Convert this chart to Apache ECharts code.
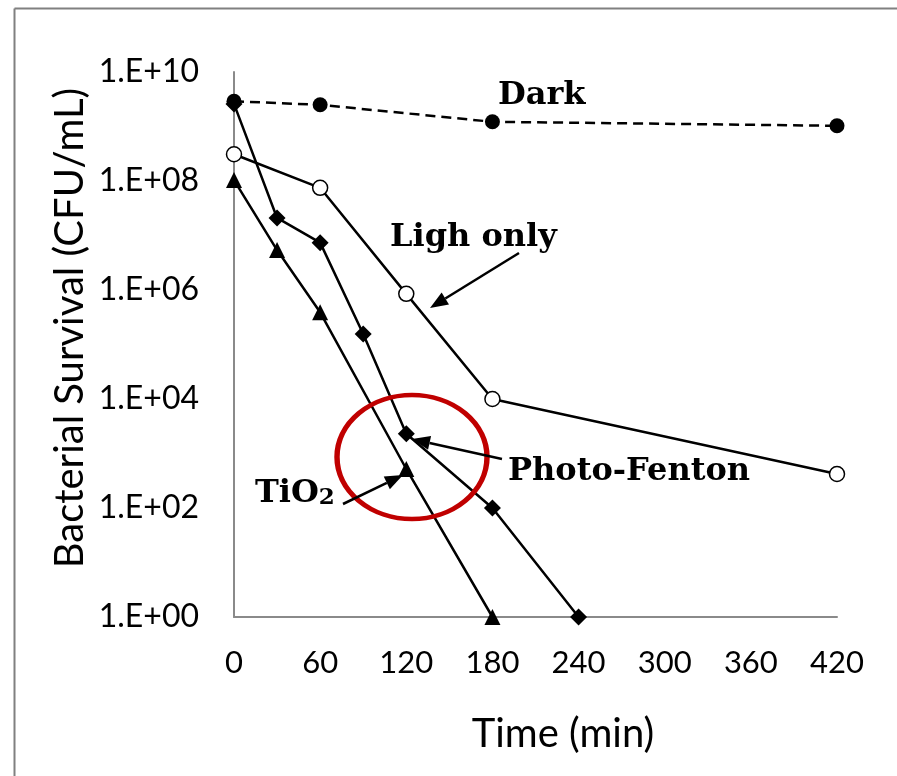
<!DOCTYPE html>
<html><head><meta charset="utf-8">
<script src="https://cdn.jsdelivr.net/npm/echarts@6/dist/echarts.min.js"></script>
<style>html,body{margin:0;padding:0;background:#fff;overflow:hidden;}#c{width:897px;height:776px;}</style>
</head><body><div id="c"></div>
<script>
// ---- data ----
const darkTime = [0, 60, 180, 420];
const darkVals = [2.9e9, 2.5e9, 1.22e9, 1.03e9];
const lightTime = [0, 60, 120, 180, 420];
const lightVals = [3.1e8, 7.5e7, 8.5e5, 1.0e4, 4.2e2];
const pfTime = [0, 30, 60, 90, 120, 180, 240];
const pfVals = [2.6e9, 2.1e7, 7.4e6, 1.56e5, 2.3e3, 1.0e2, 1];
const tiTime = [0, 30, 60, 120, 180];
const tiVals = [1.04e8, 5.4e6, 3.9e5, 5.2e2, 1];
const xTicks = [0, 60, 120, 180, 240, 300, 360, 420];
const seriesNames = ['Dark', 'Ligh only', 'Photo-Fenton', 'TiO2'];

const zip = (t, v) => t.map((x, i) => [x, v[i]]);
const chart = echarts.init(document.getElementById('c'), null, {renderer: 'canvas'});

function arrow(x1, y1, x2, y2) {
  const ang = Math.atan2(y2 - y1, x2 - x1);
  const L = 18, W = 7;
  const bx = x2 - L * Math.cos(ang), by = y2 - L * Math.sin(ang);
  const px = -Math.sin(ang) * W, py = Math.cos(ang) * W;
  return [
    {type: 'line', shape: {x1: x1, y1: y1, x2: bx, y2: by}, style: {stroke: '#000', lineWidth: 2.5}, z: 20},
    {type: 'polygon', shape: {points: [[x2, y2], [bx + px, by + py], [bx - px, by - py]]}, style: {fill: '#000'}, z: 20}
  ];
}
const annFont = 'bold 32px "DejaVu Serif"';
const lineStyle = {color: '#000', width: 2.5};

chart.setOption({
  animation: false,
  backgroundColor: '#fff',
  grid: {left: 234, top: 72, right: 60, bottom: 159, containLabel: false},
  xAxis: {
    type: 'value', min: 0, max: 420, interval: 60,
    axisLine: {show: true, lineStyle: {color: '#8a8a8a', width: 2}},
    axisTick: {show: false}, splitLine: {show: false},
    axisLabel: {color: '#000', fontFamily: 'Lato', fontSize: 31, margin: 30}
  },
  yAxis: {
    type: 'log', logBase: 100, min: 1, max: 1e10,
    axisLine: {show: true, onZero: false, lineStyle: {color: '#8a8a8a', width: 2}},
    axisTick: {show: false}, splitLine: {show: false}, minorTick: {show: false},
    axisLabel: {color: '#000', fontFamily: 'Lato', fontSize: 32, margin: 35,
      formatter: v => { const e = Math.round(Math.log10(v)); return '1.E+' + (e < 10 ? '0' + e : e); }}
  },
  series: [
    {name: seriesNames[0], type: 'line', data: zip(darkTime, darkVals), symbol: 'circle', symbolSize: 15,
     lineStyle: {color: '#000', width: 2.5, type: [10, 6]}, itemStyle: {color: '#000'}, z: 5},
    {name: seriesNames[1], type: 'line', data: zip(lightTime, lightVals), symbol: 'circle', symbolSize: 15,
     lineStyle: lineStyle, itemStyle: {color: '#fff', borderColor: '#000', borderWidth: 1.5}, z: 4},
    {name: seriesNames[2], type: 'line', data: zip(pfTime, pfVals), symbol: 'diamond', symbolSize: 17,
     lineStyle: lineStyle, itemStyle: {color: '#000'}, z: 3},
    {name: seriesNames[3], type: 'line', data: zip(tiTime, tiVals), symbol: 'triangle', symbolSize: 16,
     lineStyle: lineStyle, itemStyle: {color: '#000'}, z: 3}
  ],
  graphic: [
    {type: 'line', shape: {x1: 14.5, y1: 8.5, x2: 14.5, y2: 776}, style: {stroke: '#808080', lineWidth: 2}, z: 0, silent: true},
    {type: 'line', shape: {x1: 14.5, y1: 8.5, x2: 897, y2: 8.5}, style: {stroke: '#808080', lineWidth: 2}, z: 0, silent: true},
    {type: 'text', x: 70, y: 328, rotation: Math.PI / 2, style: {text: 'Bacterial Survival (CFU/mL)', font: '40px Lato', fill: '#000', align: 'center', verticalAlign: 'middle'}},
    {type: 'text', x: 563, y: 734, style: {text: 'Time (min)', font: '40px Lato', fill: '#000', align: 'center', verticalAlign: 'middle'}},
    {type: 'text', x: 498, y: 96, style: {text: 'Dark', font: annFont, fill: '#000', align: 'left', verticalAlign: 'middle'}, z: 20},
    {type: 'text', x: 390, y: 238, style: {text: 'Ligh only', font: annFont, fill: '#000', align: 'left', verticalAlign: 'middle'}, z: 20},
    {type: 'text', x: 508, y: 472, style: {text: 'Photo-Fenton', font: annFont, fill: '#000', align: 'left', verticalAlign: 'middle'}, z: 20},
    {type: 'text', x: 255, y: 492, style: {text: '{a|TiO}{b|2}', fill: '#000', align: 'left', verticalAlign: 'middle',
      rich: {a: {fontSize: 32, fontFamily: 'DejaVu Serif', fontWeight: 'bold', lineHeight: 36, verticalAlign: 'bottom'},
             b: {fontSize: 23, fontFamily: 'DejaVu Serif', fontWeight: 'bold', lineHeight: 28, verticalAlign: 'bottom'}}}, z: 20},
    {type: 'circle', x: 412, y: 457, scaleX: 75 / 62, scaleY: 1, shape: {cx: 0, cy: 0, r: 62},
     style: {fill: 'none', stroke: '#c00000', lineWidth: 4.5, strokeNoScale: true}, z: 15},
    ...arrow(519, 253, 430, 308),
    ...arrow(502, 459, 412, 439),
    ...arrow(343, 504, 403, 475)
  ]
});
</script></body></html>
